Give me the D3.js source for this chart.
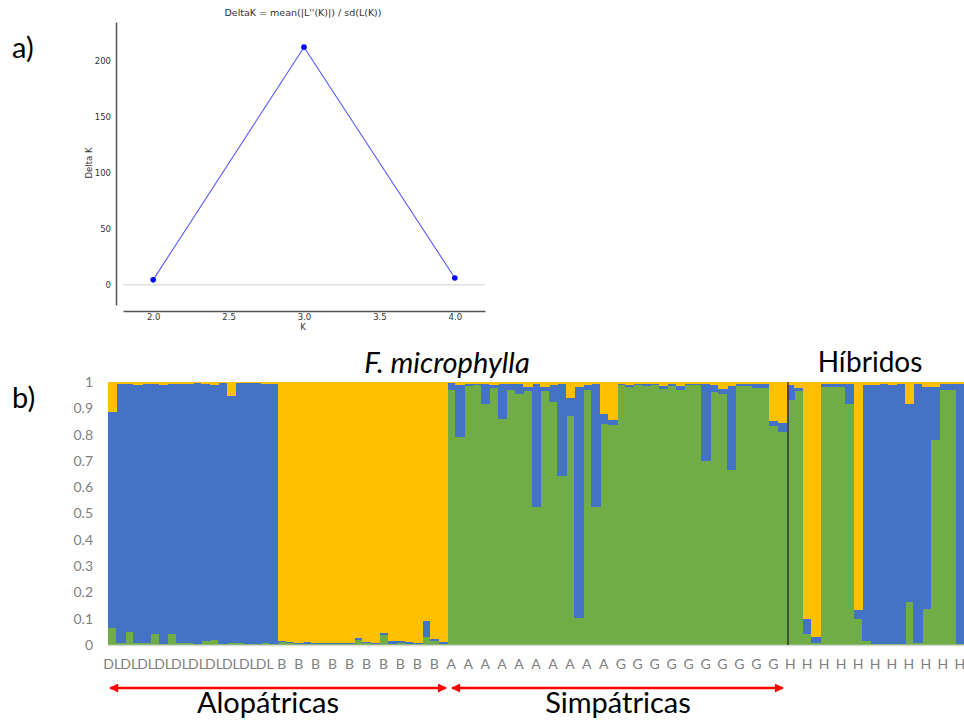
<!DOCTYPE html>
<html>
<head>
<meta charset="utf-8">
<script src="https://cdn.jsdelivr.net/npm/d3@7"></script>
<style>
  body { margin: 0; background: #fff; }
  svg { display: block; }
</style>
</head>
<body>
<div id="chart"></div>
<script>
// a) Delta K values
const kValues = [2, 3, 4];
const deltaK = [4.5, 212.5, 6.2];
const kTicks = [2, 2.5, 3, 3.5, 4];
const deltaTicks = [0, 50, 100, 150, 200];

// b) admixture proportions per individual (green, blue, yellow)
const groups = [["DL", 20], ["B", 20], ["A", 20], ["G", 20], ["H", 21]];
const green = [
  0.066, 0.009, 0.05, 0.009, 0.009, 0.043, 0.005, 0.041, 0.009, 0.009,
  0.005, 0.015, 0.02, 0.003, 0.009, 0.009, 0.003, 0.005, 0.009, 0.003,
  0.01, 0.006, 0.004, 0.005, 0.003, 0.003, 0.003, 0.005, 0.003, 0.018,
  0.006, 0.003, 0.038, 0.005, 0.008, 0.005, 0.003, 0.03, 0.016, 0.003,
  0.97, 0.792, 0.983, 0.989, 0.917, 0.979, 0.861, 0.969, 0.953, 0.967,
  0.525, 0.965, 0.924, 0.644, 0.869, 0.101, 0.971, 0.525, 0.841, 0.835,
  0.987, 0.982, 0.988, 0.983, 0.988, 0.975, 0.983, 0.971, 0.987, 0.987,
  0.70, 0.962, 0.956, 0.666, 0.983, 0.983, 0.977, 0.977, 0.831, 0.81,
  0.93, 0.964, 0.041, 0.009, 0.982, 0.982, 0.982, 0.918, 0.098, 0.016,
  0.005, 0.005, 0.005, 0.005, 0.162, 0.009, 0.136, 0.78, 0.968, 0.97,
  0.005
];
const blue = [
  0.819, 0.983, 0.944, 0.98, 0.985, 0.951, 0.984, 0.953, 0.985, 0.985,
  0.991, 0.977, 0.969, 0.992, 0.938, 0.986, 0.992, 0.99, 0.983, 0.989,
  0.006, 0.005, 0.004, 0.006, 0.005, 0.005, 0.005, 0.003, 0.005, 0.009,
  0.005, 0.005, 0.006, 0.01, 0.008, 0.006, 0.005, 0.061, 0.006, 0.008,
  0.025, 0.198, 0.009, 0.005, 0.075, 0.008, 0.131, 0.023, 0.039, 0.015,
  0.467, 0.015, 0.063, 0.348, 0.07, 0.881, 0.019, 0.467, 0.037, 0.022,
  0.005, 0.008, 0.004, 0.009, 0.004, 0.011, 0.009, 0.014, 0.005, 0.005,
  0.292, 0.028, 0.019, 0.319, 0.009, 0.009, 0.015, 0.015, 0.022, 0.034,
  0.06, 0.013, 0.057, 0.023, 0.01, 0.01, 0.01, 0.074, 0.035, 0.971,
  0.985, 0.987, 0.982, 0.987, 0.756, 0.983, 0.846, 0.202, 0.024, 0.022,
  0.987
];
const yellow = [
  0.115, 0.008, 0.006, 0.011, 0.006, 0.006, 0.011, 0.006, 0.006, 0.006,
  0.004, 0.008, 0.011, 0.005, 0.053, 0.005, 0.005, 0.005, 0.008, 0.008,
  0.984, 0.989, 0.992, 0.989, 0.992, 0.992, 0.992, 0.992, 0.992, 0.973,
  0.989, 0.992, 0.956, 0.985, 0.984, 0.989, 0.992, 0.909, 0.978, 0.989,
  0.005, 0.01, 0.008, 0.006, 0.008, 0.013, 0.008, 0.008, 0.008, 0.018,
  0.008, 0.02, 0.013, 0.008, 0.061, 0.018, 0.01, 0.008, 0.122, 0.143,
  0.008, 0.01, 0.008, 0.008, 0.008, 0.014, 0.008, 0.015, 0.008, 0.008,
  0.008, 0.01, 0.025, 0.015, 0.008, 0.008, 0.008, 0.008, 0.147, 0.156,
  0.01, 0.023, 0.902, 0.968, 0.008, 0.008, 0.008, 0.008, 0.867, 0.013,
  0.01, 0.008, 0.013, 0.008, 0.082, 0.008, 0.018, 0.018, 0.008, 0.008,
  0.008
];
const yTicks = [0, 0.1, 0.2, 0.3, 0.4, 0.5, 0.6, 0.7, 0.8, 0.9, 1];

const colors = { green: "#70ad47", blue: "#4472c4", yellow: "#ffc000" };

const svg = d3.select("#chart").append("svg")
  .attr("width", 964)
  .attr("height", 721);

// ---------- a) Delta K plot ----------
const xK = d3.scaleLinear().domain([1.8, 4.2]).range([123, 485]);
const yK = d3.scaleLinear().domain([-18, 235]).range([305, 22]);

const gA = svg.append("g").style("font-family", "DejaVu Sans, sans-serif");

gA.append("line")
  .attr("x1", xK.range()[0]).attr("x2", xK.range()[1])
  .attr("y1", yK(0)).attr("y2", yK(0))
  .attr("stroke", "#d0d0d0").attr("stroke-width", 1);

const axK = gA.append("g")
  .attr("transform", "translate(0,311)")
  .call(d3.axisBottom(xK).tickValues(kTicks).tickFormat(d3.format(".1f")).tickSize(0).tickPadding(3));
const axD = gA.append("g")
  .attr("transform", "translate(116,0)")
  .call(d3.axisLeft(yK).tickValues(deltaTicks).tickSize(0).tickPadding(5));
[axK, axD].forEach(a => {
  a.select(".domain").attr("stroke", "#555").attr("stroke-width", 1.5);
  a.selectAll("text").attr("fill", "#333").style("font-size", "8.5px").style("font-family", "DejaVu Sans, sans-serif");
});

const lineK = d3.line().x((d, i) => xK(kValues[i])).y(d => yK(d));
gA.append("path")
  .datum(deltaK)
  .attr("d", lineK)
  .attr("fill", "none")
  .attr("stroke", "#5a5aff")
  .attr("stroke-width", 1.1);

gA.selectAll(".dot")
  .data(deltaK)
  .enter()
  .append("circle")
  .attr("class", "dot")
  .attr("cx", (d, i) => xK(kValues[i]))
  .attr("cy", d => yK(d))
  .attr("r", 2.8)
  .attr("fill", "#0000ff");

gA.append("text")
  .attr("x", 303).attr("y", 15.5)
  .attr("text-anchor", "middle")
  .attr("fill", "#333")
  .style("font-size", "9.5px")
  .text("DeltaK = mean(|L''(K)|) / sd(L(K))");

gA.append("text")
  .attr("transform", "translate(92,163) rotate(-90)")
  .attr("text-anchor", "middle")
  .attr("fill", "#333")
  .style("font-size", "8.5px")
  .text("Delta K");

gA.append("text")
  .attr("x", 303).attr("y", 330)
  .attr("text-anchor", "middle")
  .attr("fill", "#333")
  .style("font-size", "8.5px")
  .text("K");

// ---------- b) admixture bar plot ----------
const labels = [];
groups.forEach(([name, n]) => { for (let i = 0; i < n; i++) labels.push(name); });
const rows = labels.map((l, i) => ({ i: i, green: green[i], blue: blue[i], yellow: yellow[i] }));

const x = d3.scaleBand().domain(rows.map(d => d.i)).range([108, 964]).padding(0);
const y = d3.scaleLinear().domain([0, 1]).range([645, 382]);

const stack = d3.stack().keys(["green", "blue", "yellow"]);
const layers = stack(rows);

const gB = svg.append("g");
gB.selectAll(".layer")
  .data(layers)
  .enter()
  .append("g")
  .attr("class", "layer")
  .attr("fill", d => colors[d.key])
  .selectAll("rect")
  .data(d => d)
  .enter()
  .append("rect")
  .attr("shape-rendering", "crispEdges")
  .attr("x", d => x(d.data.i))
  .attr("y", d => y(d[1]))
  .attr("width", x.bandwidth() + 1)
  .attr("height", d => Math.max(0, y(d[0]) - y(d[1])));

// x axis
const axX = gB.append("g")
  .attr("transform", "translate(0,645)")
  .call(d3.axisBottom(x)
    .tickValues(rows.filter(d => d.i % 2 === 0).map(d => d.i))
    .tickFormat(i => labels[i])
    .tickSize(0).tickPadding(14));
axX.select(".domain").attr("stroke", "#d9d9d9").attr("stroke-width", 1.5);
axX.selectAll("text")
  .attr("fill", "#7f7f7f")
  .style("font-size", "14px")
  .style("font-family", "Lato, sans-serif");

// y axis
const axY = gB.append("g")
  .attr("transform", "translate(108,0)")
  .call(d3.axisLeft(y).tickValues(yTicks)
    .tickFormat(d => (d === 0 || d === 1) ? String(d) : d.toFixed(1))
    .tickSize(0).tickPadding(15));
axY.select(".domain").remove();
axY.selectAll("text")
  .attr("fill", "#7f7f7f")
  .style("font-size", "14px")
  .style("font-family", "Lato, sans-serif");

// separator between G and H
gB.append("line")
  .attr("x1", x(80) + 2).attr("x2", x(80) + 2)
  .attr("y1", y(1)).attr("y2", y(0))
  .attr("stroke", "#333").attr("stroke-width", 1.5);

// arrows
const defs = svg.append("defs");
defs.append("marker")
  .attr("id", "head")
  .attr("viewBox", "0 0 10 10")
  .attr("refX", 9).attr("refY", 5)
  .attr("markerWidth", 13).attr("markerHeight", 9)
  .attr("markerUnits", "userSpaceOnUse")
  .attr("orient", "auto-start-reverse")
  .append("path")
  .attr("d", "M0,0 L10,5 L0,10 Z")
  .attr("fill", "#ff0000");

const arrowY = 688;
gB.append("line")
  .attr("x1", x(0) + 2).attr("x2", x(40) - 1)
  .attr("y1", arrowY).attr("y2", arrowY)
  .attr("stroke", "#ff0000").attr("stroke-width", 2.5)
  .attr("marker-start", "url(#head)").attr("marker-end", "url(#head)");
gB.append("line")
  .attr("x1", x(40) + 5).attr("x2", x(80) - 3)
  .attr("y1", arrowY).attr("y2", arrowY)
  .attr("stroke", "#ff0000").attr("stroke-width", 2.5)
  .attr("marker-start", "url(#head)").attr("marker-end", "url(#head)");

// annotation texts
const big = svg.append("g").style("font-family", "Lato, sans-serif").attr("fill", "#000");
big.append("text").attr("x", 268).attr("y", 713).attr("text-anchor", "middle")
  .style("font-size", "29px").text("Alopátricas");
big.append("text").attr("x", 618).attr("y", 713).attr("text-anchor", "middle")
  .style("font-size", "29px").text("Simpátricas");
big.append("text").attr("x", 447).attr("y", 373).attr("text-anchor", "middle")
  .style("font-size", "29px").style("font-style", "italic").text("F. microphylla");
big.append("text").attr("x", 870).attr("y", 372).attr("text-anchor", "middle")
  .style("font-size", "28px").text("Híbridos");
big.append("text").attr("x", 12).attr("y", 58)
  .style("font-size", "29px").text("a)");
big.append("text").attr("x", 12).attr("y", 408)
  .style("font-size", "29px").text("b)");
</script>
</body>
</html>
